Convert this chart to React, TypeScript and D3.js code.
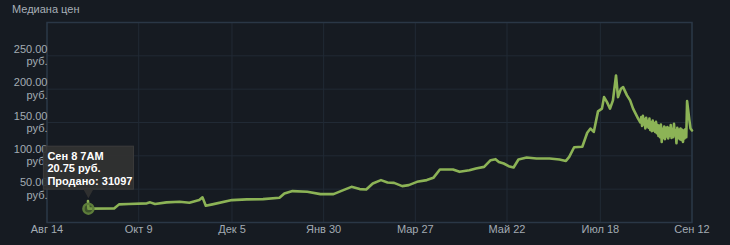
import React from "react";
import * as d3 from "d3";

const W = 730;
const H = 245;

// Daily / sparse section of the median price series
const mainDates = [
  "2017-09-08 01", "2017-09-08 07", "2017-09-24 00", "2017-09-27 00", "2017-10-03 00",
  "2017-10-14 00", "2017-10-16 00", "2017-10-19 00", "2017-10-26 00", "2017-11-03 00",
  "2017-11-09 00", "2017-11-15 00", "2017-11-17 00", "2017-11-19 00", "2017-11-23 00",
  "2017-12-05 00", "2017-12-14 00", "2017-12-24 00", "2018-01-03 00", "2018-01-06 00",
  "2018-01-11 00", "2018-01-20 00", "2018-01-28 00", "2018-02-05 00", "2018-02-11 00",
  "2018-02-16 00", "2018-02-21 00", "2018-02-25 00", "2018-03-01 00", "2018-03-06 00",
  "2018-03-10 00", "2018-03-14 00", "2018-03-19 00", "2018-03-23 00", "2018-03-28 00",
  "2018-04-03 00", "2018-04-07 00", "2018-04-11 00", "2018-04-19 00", "2018-04-23 00",
  "2018-04-29 00", "2018-05-03 00", "2018-05-08 00", "2018-05-12 00", "2018-05-15 00",
  "2018-05-17 00", "2018-05-20 00", "2018-05-23 00", "2018-05-26 00", "2018-05-29 00",
  "2018-06-03 00", "2018-06-09 00", "2018-06-17 00", "2018-06-23 00", "2018-06-27 00",
  "2018-06-29 00", "2018-07-02 00", "2018-07-07 00", "2018-07-10 00", "2018-07-12 00",
  "2018-07-14 00", "2018-07-16 14", "2018-07-19 00", "2018-07-20 07", "2018-07-22 02",
  "2018-07-23 22", "2018-07-25 17", "2018-07-27 14", "2018-07-28 19", "2018-07-30 14",
  "2018-07-31 22", "2018-08-03 07", "2018-08-05 05", "2018-08-07 00", "2018-08-10 02",
];
const mainValues = [
  32, 20.75, 20.9, 27.2, 27.7,
  28.7, 30.2, 27.7, 30.2, 31.1,
  29.6, 33.6, 37.7, 25.1, 27.2,
  33.6, 34.7, 35.1, 37.1, 43.4,
  47.1, 46.1, 42.6, 42.6, 48.6,
  53.5, 50.1, 49.6, 58.6, 63.6,
  60.1, 59.5, 54.6, 56.1, 61.0,
  63.6, 67.0, 79.6, 79.6, 76.0,
  78.5, 81.1, 83.4, 93.5, 95.0,
  90.9, 88.5, 84.5, 82.5, 94.5,
  97.5, 96.0, 96.0, 94.5, 92.4,
  98.4, 112.9, 113.7, 134.6, 140.9,
  135.8, 166.7, 170.8, 188.1, 180.6,
  170.8, 183.2, 220.6, 188.1, 200.7,
  203.1, 190.7, 183.2, 170.8, 155.8,
];

// Recent twice-daily section (noisy)
const recentDates = [
  "2018-08-11 12", "2018-08-12 00", "2018-08-12 12", "2018-08-13 00", "2018-08-13 12",
  "2018-08-14 00", "2018-08-14 12", "2018-08-15 00", "2018-08-15 12", "2018-08-16 00",
  "2018-08-16 12", "2018-08-17 00", "2018-08-17 12", "2018-08-18 00", "2018-08-18 12",
  "2018-08-19 00", "2018-08-19 12", "2018-08-20 00", "2018-08-20 12", "2018-08-21 00",
  "2018-08-21 12", "2018-08-22 00", "2018-08-22 12", "2018-08-23 00", "2018-08-23 12",
  "2018-08-24 00", "2018-08-24 12", "2018-08-25 00", "2018-08-25 12", "2018-08-26 00",
  "2018-08-26 12", "2018-08-27 00", "2018-08-27 12", "2018-08-28 00", "2018-08-28 12",
  "2018-08-29 00", "2018-08-29 12", "2018-08-30 00", "2018-08-30 12", "2018-08-31 00",
  "2018-08-31 12", "2018-09-01 00", "2018-09-01 12", "2018-09-02 00", "2018-09-02 12",
  "2018-09-03 00", "2018-09-03 12", "2018-09-04 00", "2018-09-04 12", "2018-09-05 00",
  "2018-09-05 12", "2018-09-06 00", "2018-09-06 12", "2018-09-07 00", "2018-09-07 12",
  "2018-09-08 00", "2018-09-08 12", "2018-09-09 00", "2018-09-10 10", "2018-09-11 02",
  "2018-09-12 00",
];
const recentValues = [
  150, 158, 145, 160, 147,
  155, 141, 157, 144, 152,
  142, 156, 139, 150, 137,
  153, 138, 149, 136, 151,
  134, 146, 130, 145, 128,
  147, 121, 140, 127, 144,
  125, 142, 129, 143, 126,
  141, 130, 146, 127, 140,
  128, 148, 131, 138, 119,
  142, 127, 139, 125, 141,
  124, 139, 121, 138, 126,
  140, 128, 182, 153, 141,
  138,
];

const xTickDates = [
  "2017-08-14 00", "2017-10-09 00", "2017-12-05 00", "2018-01-30 00",
  "2018-03-27 00", "2018-05-22 00", "2018-07-18 00", "2018-09-12 00",
];
const xTickLabels = ["Авг 14", "Окт 9", "Дек 5", "Янв 30", "Мар 27", "Май 22", "Июл 18", "Сен 12"];
const yTicks = [50, 100, 150, 200, 250];
const yUnit = "руб.";
const title = "Медиана цен";

const tooltipDate = "2017-09-08 07";
const tooltipValue = 20.75;
const tooltipLines = ["Сен 8 7AM", "20.75 руб.", "Продано: 31097"];

const FONT = "Arial, 'Liberation Sans', sans-serif";

export default function App() {
  const parse = d3.timeParse("%Y-%m-%d %H");
  const x = d3
    .scaleTime()
    .domain([parse("2017-08-14 00") as Date, parse("2018-09-12 00") as Date])
    .range([47, 692]);
  const y = d3.scaleLinear().domain([0, 300]).range([222.5, 22.5]);

  const data = [
    ...mainDates.map((d, i) => ({ t: parse(d) as Date, v: mainValues[i] })),
    ...recentDates.map((d, i) => ({ t: parse(d) as Date, v: recentValues[i] })),
  ];
  const line = d3
    .line<{ t: Date; v: number }>()
    .x((d) => x(d.t))
    .y((d) => y(d.v));

  const [x0, x1] = x.range();
  const [yb, yt] = y.range();

  const tx = x(parse(tooltipDate) as Date);
  const ty = y(tooltipValue);
  const boxW = 90;
  const boxH = 43;
  const boxX = tx - 45;
  const boxY = ty - 62.5;

  return (
    <svg
      width={W}
      height={H}
      style={{ position: "absolute", left: 0, top: 0, display: "block" }}
      fontFamily={FONT}
    >
      <rect x={0} y={0} width={W} height={H} fill="#161b22" />
      <text x={12} y={13} fontSize={11} fill="#a7afb7">
        {title}
      </text>

      {/* horizontal grid */}
      {yTicks.map((t) => (
        <line key={"h" + t} x1={x0} x2={x1} y1={y(t)} y2={y(t)} stroke="#212a35" strokeWidth={1} />
      ))}
      {/* vertical grid */}
      {xTickDates.map((d) => {
        const xx = x(parse(d) as Date);
        return <line key={"v" + d} x1={xx} x2={xx} y1={yt} y2={yb} stroke="#212a35" strokeWidth={1} />;
      })}
      {/* plot border */}
      <rect x={x0} y={yt} width={x1 - x0} height={yb - yt} fill="none" stroke="#2a3746" strokeWidth={1.5} />

      {/* y labels */}
      {yTicks.map((t) => (
        <g key={"yl" + t} fontSize={11} fill="#a3abb3" textAnchor="end">
          <text x={47.5} y={y(t) - 3}>
            {t.toFixed(2)}
          </text>
          <text x={47.5} y={y(t) + 9.5}>
            {yUnit}
          </text>
        </g>
      ))}

      {/* x labels */}
      {xTickDates.map((d, i) => (
        <text key={"xl" + d} x={x(parse(d) as Date)} y={233} fontSize={11} fill="#a3abb3" textAnchor="middle">
          {xTickLabels[i]}
        </text>
      ))}

      {/* price line */}
      <path
        d={line(data) || ""}
        fill="none"
        stroke="#8cb356"
        strokeWidth={2.6}
        strokeLinejoin="round"
        strokeLinecap="round"
      />

      {/* highlighted point */}
      <circle cx={tx} cy={ty} r={5} fill="rgba(95,130,55,0.55)" stroke="#5d7d3a" strokeWidth={2.5} />

      {/* tooltip */}
      <g>
        <rect x={boxX} y={boxY} width={boxW} height={boxH} fill="rgba(50,50,50,0.93)" stroke="#3c3c3c" strokeWidth={1} />
        <path
          d={`M${tx - 5},${boxY + boxH} L${tx + 5},${boxY + boxH} L${tx},${boxY + boxH + 9} Z`}
          fill="rgba(50,50,50,0.93)"
        />
        {tooltipLines.map((s, i) => (
          <text key={s} x={boxX + 4} y={boxY + 13.5 + i * 12.6} fontSize={11} fontWeight="bold" fill="#ffffff">
            {s}
          </text>
        ))}
      </g>
    </svg>
  );
}
